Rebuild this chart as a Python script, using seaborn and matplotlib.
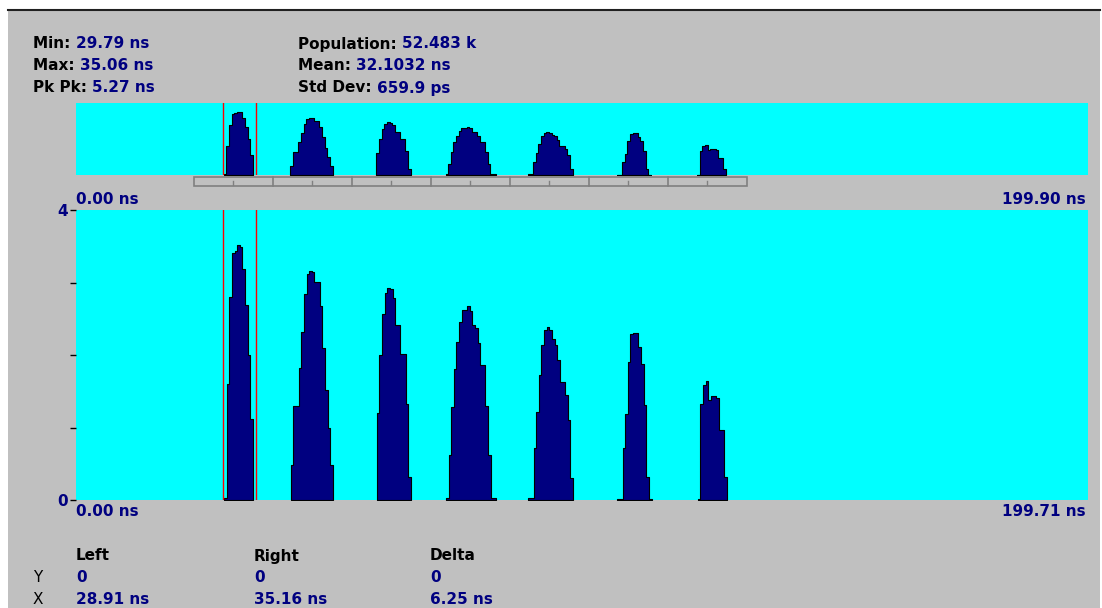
import numpy as np
import pandas as pd
import matplotlib
matplotlib.use("Agg")
import matplotlib.pyplot as plt
import seaborn as sns
from matplotlib.patches import Rectangle
from matplotlib.lines import Line2D
import matplotlib.transforms as mtransforms

# ---------------- data ----------------
BIN_NS = 0.52
peak_starts = [29.2, 42.37, 59.34, 73.0, 89.26, 106.82, 122.69]
peak1 = [0.03, 1.60, 2.80, 3.40, 3.43, 3.52, 3.49, 3.19, 2.69, 2.00, 1.12]
peak2 = [0.48, 1.29, 1.29, 1.82, 2.32, 2.84, 3.12, 3.16, 3.14, 3.01, 3.01, 2.67, 2.10, 1.52, 1.00, 0.48]
peak3 = [1.20, 2.00, 2.56, 2.86, 2.93, 2.91, 2.78, 2.41, 2.41, 2.02, 2.02, 1.33, 0.32]
peak4 = [0.03, 0.62, 1.28, 1.81, 2.18, 2.45, 2.62, 2.62, 2.67, 2.60, 2.41, 2.37, 2.16, 1.86, 1.86, 1.29, 0.62, 0.03, 0.03]
peak5 = [0.03, 0.03, 0.72, 1.22, 1.72, 2.14, 2.34, 2.38, 2.34, 2.22, 2.14, 1.93, 1.63, 1.63, 1.45, 1.10, 0.31]
peak6 = [0.02, 0.02, 0.72, 1.19, 1.90, 2.29, 2.31, 2.31, 2.11, 1.88, 1.31, 0.32, 0.02]
peak7 = [0.02, 1.32, 1.59, 1.64, 1.38, 1.43, 1.43, 1.40, 0.97, 0.97, 0.32]
peaks = [peak1, peak2, peak3, peak4, peak5, peak6, peak7]

main_xrange = (0.0, 199.71)
overview_xrange = (0.0, 199.90)
y_range = (0, 4)
y_ticks = [0, 1, 2, 3, 4]
y_ticklabels = ["0", "", "", "", "4"]
cursor_ns = [29.0, 35.55]

# scroll bar windows (overview), one per peak
scroll_start = 23.3
scroll_seg = 15.6
scroll_n = 7

stats_left = [("Min:", "29.79 ns"), ("Max:", "35.06 ns"), ("Pk Pk:", "5.27 ns")]
stats_right = [("Population:", "52.483 k"), ("Mean:", "32.1032 ns"), ("Std Dev:", "659.9 ps")]
cursor_headers = ["Left", "Right", "Delta"]
cursor_y = ["0", "0", "0"]
cursor_x = ["28.91 ns", "35.16 ns", "6.25 ns"]

# build long table of bins
rows = []
for i, (s, hs) in enumerate(zip(peak_starts, peaks)):
    for j, h in enumerate(hs):
        rows.append({"peak": i, "left": s + j * BIN_NS, "center": s + (j + 0.5) * BIN_NS, "height": h})
df = pd.DataFrame(rows)

# ---------------- style ----------------
NAVY = "#000080"
CYAN = "#00FFFF"
GRAY = "#C0C0C0"
W, H = 1102, 608
FONT = ["DejaVu Sans"]
plt.rcParams["font.family"] = FONT

fig = plt.figure(figsize=(W / 100, H / 100), dpi=100)
fig.patch.set_facecolor("white")

def fx(px):
    return px / W

def fy(py):
    return 1 - py / H

# window background
fig.add_artist(Rectangle((fx(8), 0), fx(1100) - fx(8), fy(10), transform=fig.transFigure,
                         facecolor=GRAY, edgecolor="none", zorder=-10))
fig.add_artist(Line2D([fx(8), fx(1100)], [fy(9.5), fy(9.5)], transform=fig.transFigure,
                      color="#202020", lw=1.5, zorder=-9))

ax_ov = fig.add_axes([fx(76), fy(175), fx(1088) - fx(76), (175 - 103) / H])
ax = fig.add_axes([fx(76), fy(500), fx(1088) - fx(76), (500 - 210) / H])


def draw_hist(a):
    for i in range(len(peaks)):
        sub = df[df["peak"] == i]
        edges = list(sub["left"].values) + [float(sub["left"].values[-1] + BIN_NS)]
        sns.histplot(data=sub, x="center", weights="height", bins=edges, element="step",
                     fill=True, color=NAVY, edgecolor="black", linewidth=0.8, alpha=1,
                     ax=a, zorder=2)
    for c in cursor_ns:
        a.axvline(c, color="red", lw=1.0, zorder=3)
    a.set_facecolor(CYAN)
    for sp in a.spines.values():
        sp.set_visible(False)
    a.set_xlabel("")
    a.set_ylabel("")
    a.set_ylim(*y_range)


draw_hist(ax_ov)
ax_ov.set_xlim(*overview_xrange)
ax_ov.set_xticks([])
ax_ov.set_yticks([])

draw_hist(ax)
ax.set_xlim(*main_xrange)
ax.set_xticks([])
ax.set_yticks(y_ticks)
ax.set_yticklabels(y_ticklabels)
ax.tick_params(axis="y", length=4.5, width=1, color="black", labelcolor=NAVY,
               labelsize=11, pad=1)
for t in ax.get_yticklabels():
    t.set_fontweight("bold")

# scroll bar under overview
tr = mtransforms.blended_transform_factory(ax_ov.transData, ax_ov.transAxes)
y0 = (175 - 186) / 72
y1 = (175 - 177) / 72
ax_ov.add_patch(Rectangle((scroll_start, y0), scroll_seg * scroll_n, y1 - y0, transform=tr,
                          facecolor=GRAY, edgecolor="#808080", lw=1.2, clip_on=False))
for k in range(1, scroll_n):
    xk = scroll_start + k * scroll_seg
    ax_ov.add_line(Line2D([xk, xk], [y0, y1], transform=tr, color="#808080", lw=1.2, clip_on=False))
for k in range(scroll_n):
    xc = scroll_start + (k + 0.5) * scroll_seg
    ax_ov.add_line(Line2D([xc, xc], [(175 - 185) / 72, (175 - 181) / 72], transform=tr,
                          color="#808080", lw=1, clip_on=False))

# ---------------- text ----------------
renderer = fig.canvas.get_renderer()


def label_value(xp, yp, lab, val, size=11):
    t = fig.text(fx(xp), fy(yp), lab + " ", color="black", fontsize=size, fontweight="bold",
                 va="center", ha="left")
    bb = t.get_window_extent(renderer=renderer)
    fig.text(bb.x1 / W, fy(yp), val, color=NAVY, fontsize=size, fontweight="bold",
             va="center", ha="left")


for k, (lab, val) in enumerate(stats_left):
    label_value(33, 44 + 22 * k, lab, val)
for k, (lab, val) in enumerate(stats_right):
    label_value(298, 44 + 22 * k, lab, val)

fig.text(fx(76), fy(199), "0.00 ns", color=NAVY, fontsize=11, fontweight="bold", va="center")
fig.text(fx(1086), fy(199), "199.90 ns", color=NAVY, fontsize=11, fontweight="bold",
         va="center", ha="right")
fig.text(fx(76), fy(512), "0.00 ns", color=NAVY, fontsize=11, fontweight="bold", va="center")
fig.text(fx(1086), fy(512), "199.71 ns", color=NAVY, fontsize=11, fontweight="bold",
         va="center", ha="right")

cols_x = [76, 254, 430]
for xp, hdr, yv, xv in zip(cols_x, cursor_headers, cursor_y, cursor_x):
    fig.text(fx(xp), fy(556), hdr, color="black", fontsize=11, fontweight="bold", va="center")
    fig.text(fx(xp), fy(578), yv, color=NAVY, fontsize=11, fontweight="bold", va="center")
    fig.text(fx(xp), fy(600), xv, color=NAVY, fontsize=11, fontweight="bold", va="center")
fig.text(fx(33), fy(578), "Y", color="black", fontsize=11, va="center")
fig.text(fx(33), fy(600), "X", color="black", fontsize=11, va="center")

fig.savefig("out.png", dpi=100, facecolor=fig.get_facecolor())
